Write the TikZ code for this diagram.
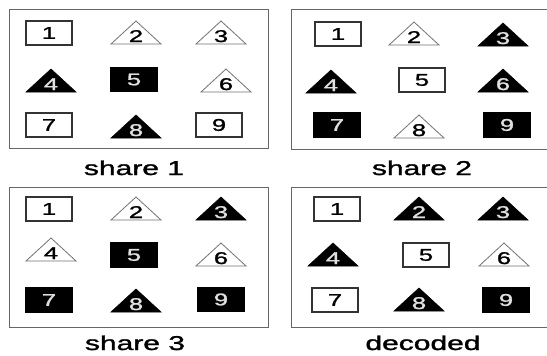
\documentclass[tikz,border=0pt]{standalone}
\usepackage{fontspec}
\setmainfont{Liberation Sans}
\newfontfamily\heavyfont[FakeBold=1.2]{Liberation Sans}
\begin{document}
\begin{tikzpicture}[x=1pt,y=-1pt,
  panel/.style={draw=black!60,line width=0.9pt},
  digit/.style={font=\heavyfont\fontsize{17}{19}\selectfont,inner sep=0pt},
  sqwhite/.style={draw=black!80,line width=1.2pt,fill=white,minimum width=46pt,minimum height=24pt,inner sep=0pt,font=\heavyfont\fontsize{17}{19}\selectfont},
  sqblack/.style={draw=black,line width=1.1pt,fill=black,text=white!88!black,minimum width=46pt,minimum height=24pt,inner sep=0pt,font=\heavyfont\fontsize{17}{19}\selectfont},
  triwhite/.style={draw=black!55,line width=0.8pt,fill=white},
  triblack/.style={draw=black,line width=0.6pt,fill=black},
  dk/.style={text=black},
  lt/.style={text=white!88!black},
  lbl/.style={font=\heavyfont\fontsize{20}{22}\selectfont,inner sep=0pt,anchor=base}]
\useasboundingbox (0,0) rectangle (547,356);
\newcommand\sq[5]{\node[#5] (#1) at (#2,#3) {\scalebox{1.5}[1]{#4}};}
\newcommand\tri[6]{%
  \draw[#5] (#2-25,#3) -- (#2,#3-23) -- (#2+25,#3) -- cycle;
  \node[digit,anchor=base,#6] (#1) at (#2,#3-2) {\scalebox{1.5}[1]{#4}};}
% panels
\draw[panel] (9,9) rectangle (268,148);
\draw[panel] (547,9) -- (291,9) -- (291,149) -- (547,149);
\draw[panel] (9,187) rectangle (268,327);
\draw[panel] (547,187) -- (291,187) -- (291,327) -- (547,327);
% labels
\node[lbl] (l1) at (134,175) {\scalebox{1.5}[1]{share 1}};
\node[lbl] (l2) at (422,175) {\scalebox{1.5}[1]{share 2}};
\node[lbl] (l3) at (135,350) {\scalebox{1.5}[1]{share 3}};
\node[lbl] (l4) at (423,350) {\scalebox{1.5}[1]{decoded}};
% panel 1
\sq{a1}{49}{33}{1}{sqwhite}
\tri{a2}{136}{44}{2}{triwhite}{dk}
\tri{a3}{221}{44}{3}{triwhite}{dk}
\tri{a4}{51}{92}{4}{triblack}{lt}
\sq{a5}{134}{79.5}{5}{sqblack}
\tri{a6}{226}{92}{6}{triwhite}{dk}
\sq{a7}{49}{125}{7}{sqwhite}
\tri{a8}{136}{138}{8}{triblack}{lt}
\sq{a9}{219}{125}{9}{sqwhite}
% panel 2
\sq{b1}{338}{34}{1}{sqwhite}
\tri{b2}{414}{45}{2}{triwhite}{dk}
\tri{b3}{503}{46}{3}{triblack}{lt}
\tri{b4}{331}{93}{4}{triblack}{lt}
\sq{b5}{422}{80}{5}{sqwhite}
\tri{b6}{503}{92}{6}{triblack}{lt}
\sq{b7}{337}{125}{7}{sqblack}
\tri{b8}{419}{138}{8}{triwhite}{dk}
\sq{b9}{507}{125}{9}{sqblack}
% panel 3
\sq{c1}{49}{209}{1}{sqwhite}
\tri{c2}{136}{220}{2}{triwhite}{dk}
\tri{c3}{221}{220}{3}{triblack}{lt}
\tri{c4}{51}{261}{4}{triwhite}{dk}
\sq{c5}{134}{255}{5}{sqblack}
\tri{c6}{221}{266}{6}{triwhite}{dk}
\sq{c7}{49}{300}{7}{sqblack}
\tri{c8}{136}{312}{8}{triblack}{lt}
\sq{c9}{221}{299.5}{9}{sqblack}
% panel 4
\sq{d1}{337}{209}{1}{sqwhite}
\tri{d2}{419}{220}{2}{triblack}{lt}
\tri{d3}{503}{220}{3}{triblack}{lt}
\tri{d4}{333}{266}{4}{triblack}{lt}
\sq{d5}{426}{255}{5}{sqwhite}
\tri{d6}{504}{266}{6}{triwhite}{dk}
\sq{d7}{335}{300}{7}{sqwhite}
\tri{d8}{419}{311}{8}{triblack}{lt}
\sq{d9}{506}{300}{9}{sqblack}
\end{tikzpicture}
\end{document}
